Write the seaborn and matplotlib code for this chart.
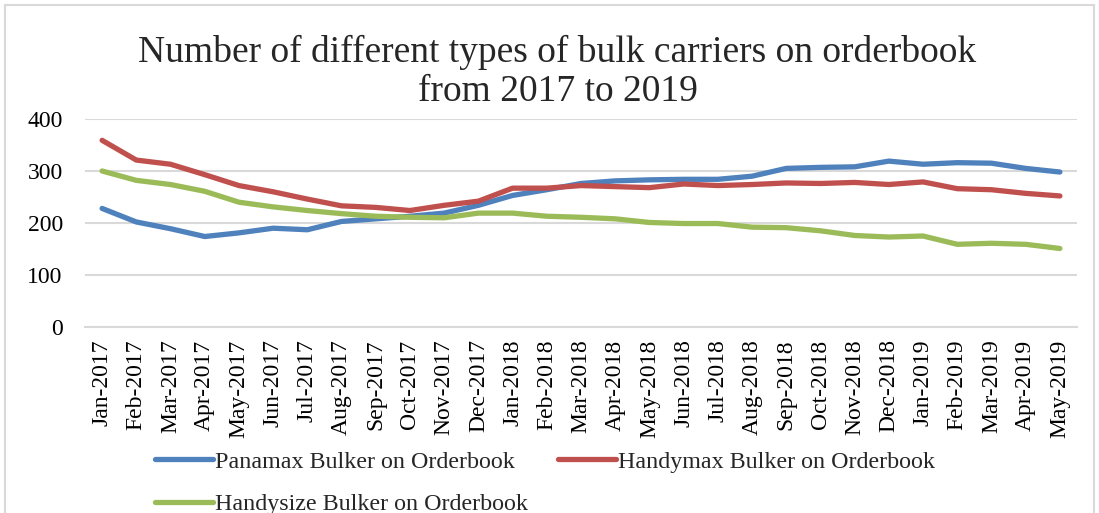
import numpy as np
import pandas as pd
import seaborn as sns
import matplotlib
matplotlib.use("Agg")
import matplotlib.pyplot as plt
from matplotlib.lines import Line2D
from matplotlib.patches import Rectangle

# Monthly orderbook counts by bulk carrier class
months = [
    "Jan-2017", "Feb-2017", "Mar-2017", "Apr-2017", "May-2017", "Jun-2017",
    "Jul-2017", "Aug-2017", "Sep-2017", "Oct-2017", "Nov-2017", "Dec-2017",
    "Jan-2018", "Feb-2018", "Mar-2018", "Apr-2018", "May-2018", "Jun-2018",
    "Jul-2018", "Aug-2018", "Sep-2018", "Oct-2018", "Nov-2018", "Dec-2018",
    "Jan-2019", "Feb-2019", "Mar-2019", "Apr-2019", "May-2019",
]
panamax = [228, 202, 189, 174, 181, 190, 187, 203, 208, 213, 219, 234,
           253, 264, 276, 281, 283, 284, 284, 290, 305, 307, 308, 319,
           313, 316, 315, 305, 298]
handymax = [359, 321, 313, 293, 272, 260, 246, 233, 230, 224, 234, 242,
            267, 267, 272, 270, 268, 275, 272, 274, 277, 276, 278, 274,
            279, 266, 264, 257, 252]
handysize = [300, 282, 274, 261, 240, 231, 224, 218, 213, 211, 210, 219,
             219, 213, 211, 208, 201, 199, 199, 192, 191, 185, 176, 173,
             175, 159, 161, 159, 151]

series_names = [
    "Panamax Bulker on Orderbook",
    "Handymax Bulker on Orderbook",
    "Handysize Bulker on Orderbook",
]
series_colors = ["#4F81BD", "#C0504D", "#9BBB59"]
y_ticks = [0, 100, 200, 300, 400]

df = pd.DataFrame({
    "Month": months * 3,
    "Count": panamax + handymax + handysize,
    "Series": [series_names[0]] * len(months)
              + [series_names[1]] * len(months)
              + [series_names[2]] * len(months),
})

sns.set_theme(style="white")
plt.rcParams["font.family"] = ["Liberation Serif", "DejaVu Serif"]

fig = plt.figure(figsize=(10.99, 5.13), dpi=100)
ax = fig.add_axes([85 / 1099, 1 - 327 / 513, (1077 - 85) / 1099, (327 - 119) / 513])

palette = dict(zip(series_names, series_colors))
sns.lineplot(data=df, x="Month", y="Count", hue="Series", palette=palette,
             hue_order=series_names, sort=False, linewidth=3.8, ax=ax,
             legend=False, solid_capstyle="round", zorder=3)

grid_col = "#d9d9d9"
ax.set_xlim(-0.5, len(months) - 0.5)
ax.set_ylim(0, 400)
ax.set_yticks(y_ticks)
ax.set_yticklabels([str(v) for v in y_ticks])
ax.set_xticks(range(len(months)))
ax.set_xticklabels(months, rotation=90)
ax.set_xticks(np.arange(-0.5, len(months)), minor=True)
ax.set_xlabel("")
ax.set_ylabel("")

ax.yaxis.grid(True, color=grid_col, linewidth=1.5)
ax.xaxis.grid(False)
for side in ["left", "top", "right"]:
    ax.spines[side].set_visible(False)
ax.spines["bottom"].set_color(grid_col)
ax.spines["bottom"].set_linewidth(1.5)

ax.tick_params(axis="y", length=0, pad=16, labelsize=17, labelcolor="black")
ax.tick_params(axis="x", which="major", length=0, pad=9, labelsize=17,
               labelcolor="black")
ax.tick_params(axis="x", which="minor", length=6, width=1.5, color=grid_col,
               direction="out")

fig.text(557.5 / 1099, 1 - 72 / 513,
         "Number of different types of bulk carriers on orderbook\nfrom 2017 to 2019",
         ha="center", va="center", fontsize=27, linespacing=1.2)

handles = [Line2D([0], [0], color=c, lw=3.8, solid_capstyle="round")
           for c in series_colors]
order = [0, 2, 1]
fig.legend([handles[i] for i in order], [series_names[i] for i in order],
           ncol=2, loc="upper left", bbox_to_anchor=(155 / 1099, 1 - 451 / 513),
           frameon=False, fontsize=17.3, handlelength=2.4, handletextpad=0.1,
           columnspacing=1.25, borderpad=0, borderaxespad=0, labelspacing=0.85)

# chart area border
fig.patches.append(Rectangle((5 / 1099, -0.1), 1089 / 1099, 1.1 - 5 / 513,
                             transform=fig.transFigure, fill=False,
                             edgecolor=grid_col, linewidth=1.5))

fig.savefig("out.png", dpi=100)
